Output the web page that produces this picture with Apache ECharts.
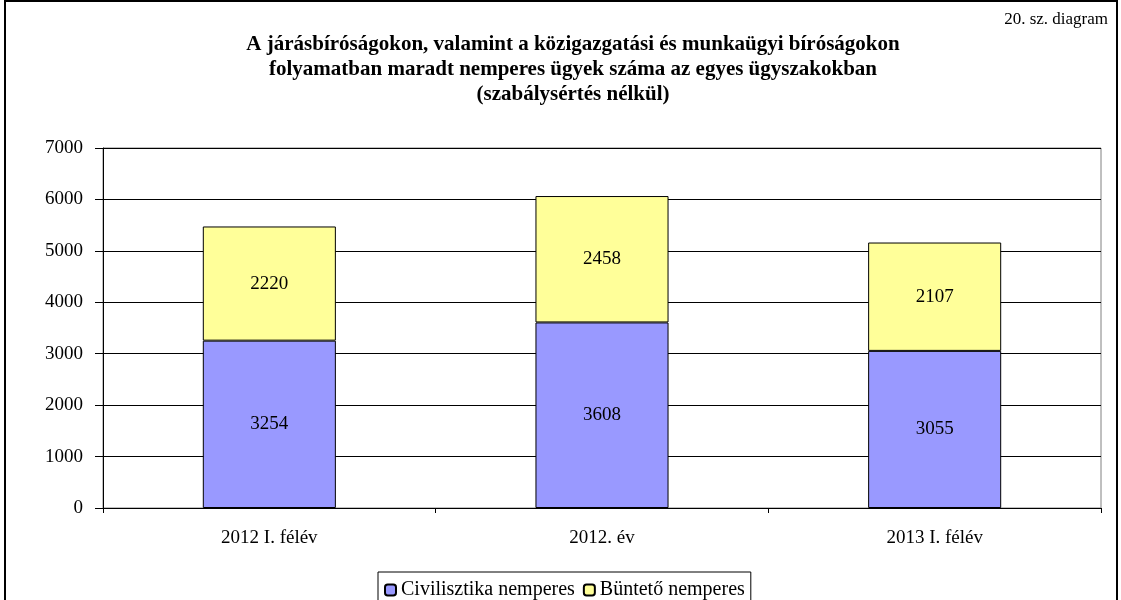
<!DOCTYPE html>
<html>
<head>
<meta charset="utf-8">
<script src="https://cdn.jsdelivr.net/npm/echarts@6/dist/echarts.min.js"></script>
<style>
  html, body { margin: 0; padding: 0; background: #fff; }
  #chart { width: 1121px; height: 600px; }
</style>
</head>
<body>
<div id="chart"></div>
<script>
// nemperes ügyek, folyamatban maradt
var categories = ["2012 I. félév", "2012. év", "2013 I. félév"];
var civilValues = [3254, 3608, 3055];
var buntetoValues = [2220, 2458, 2107];
var seriesNames = ["Civilisztika nemperes", "Büntető nemperes"];

var serif = "'Liberation Serif', 'DejaVu Serif', serif";

(function () {
  var el = document.getElementById("chart");
  var chart = echarts.init(el, null, { renderer: "canvas" });

  function labelOpt() {
    return {
      show: true,
      position: "inside",
      color: "#000",
      fontFamily: serif,
      fontSize: 19
    };
  }

  chart.setOption({
    animation: false,
    backgroundColor: "#fff",
    title: {
      text: "A járásbíróságokon, valamint a közigazgatási és munkaügyi bíróságokon\nfolyamatban maradt nemperes ügyek száma az egyes ügyszakokban\n(szabálysértés nélkül)",
      left: 568,
      top: 27,
      textAlign: "center",
      textStyle: {
        fontFamily: serif,
        fontWeight: "bold",
        fontSize: 21,
        lineHeight: 25,
        color: "#000"
      }
    },
    graphic: [
      {
        type: "rect",
        shape: { x: 5, y: 1, width: 1112, height: 620 },
        style: { fill: "none", stroke: "#000", lineWidth: 2 },
        silent: true
      },
      {
        type: "text",
        right: 13,
        top: 11,
        style: {
          text: "20. sz. diagram",
          font: "17px " + serif,
          fill: "#000"
        }
      }
    ],
    legend: {
      bottom: -8,
      left: 378,
      data: seriesNames,
      itemWidth: 11,
      itemHeight: 11,
      itemGap: 8,
      padding: [8, 6, 8, 6],
      borderColor: "#000",
      borderWidth: 1,
      textStyle: { fontFamily: serif, fontSize: 20, color: "#000" },
      selectedMode: false
    },
    grid: {
      left: 103,
      right: 20,
      top: 148,
      bottom: 92,
      show: true,
      borderColor: "#808080",
      borderWidth: 1
    },
    xAxis: {
      type: "category",
      data: categories,
      axisLine: { lineStyle: { color: "#000", width: 1 } },
      axisTick: { show: true, alignWithLabel: false, length: 5, lineStyle: { color: "#000" } },
      axisLabel: { color: "#000", fontFamily: serif, fontSize: 19, margin: 21 }
    },
    yAxis: {
      type: "value",
      min: 0,
      max: 7000,
      interval: 1000,
      axisLine: { show: true, lineStyle: { color: "#000", width: 1 } },
      axisTick: { show: true, length: 8, lineStyle: { color: "#000" } },
      axisLabel: {
        color: "#000",
        fontFamily: serif,
        fontSize: 19,
        margin: 20,
        formatter: function (v) { return String(v); }
      },
      splitLine: { lineStyle: { color: "#000", width: 1 } }
    },
    series: [
      {
        name: seriesNames[0],
        type: "bar",
        stack: "total",
        barWidth: "40%",
        data: civilValues,
        itemStyle: { color: "#9999FF", borderColor: "#000", borderWidth: 1 },
        label: labelOpt()
      },
      {
        name: seriesNames[1],
        type: "bar",
        stack: "total",
        data: buntetoValues,
        itemStyle: { color: "#FFFF99", borderColor: "#000", borderWidth: 1 },
        label: labelOpt()
      }
    ]
  });
})();
</script>
</body>
</html>
